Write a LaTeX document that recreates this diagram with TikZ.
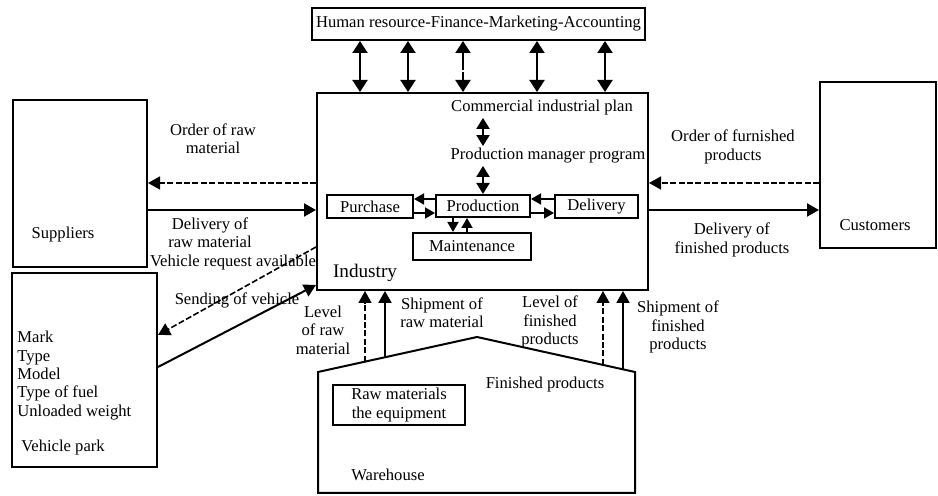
\documentclass[tikz,border=0pt]{standalone}
\usepackage{fontspec}
\setmainfont{Liberation Serif}
\usetikzlibrary{arrows.meta,positioning}

\tikzset{
  box/.style={draw, line width=1pt, inner sep=0pt, align=center},
  boxsize/.style 2 args={minimum width=#1*0.5pt, minimum height=#2*0.5pt},
  lbl/.style={inner sep=1pt, align=center},
  bigarrow/.style={line width=1pt, -{Triangle[length=6pt,width=6.5pt]}},
  dasharrow/.style={line width=0.8pt, dash pattern=on 3pt off 1.2pt, -{Triangle[length=6pt,width=6.5pt]}},
  twoway/.style={line width=1pt, {Triangle[length=5.5pt,width=6.5pt]}-{Triangle[length=5.5pt,width=6.5pt]}},
  hrlink/.style={line width=1pt, {Triangle[length=6pt,width=7.5pt]}-{Triangle[length=6pt,width=7.5pt]}},
  smallarrow/.style={line width=0.9pt, -{Triangle[length=5pt,width=5.5pt]}},
}

\begin{document}
\begin{tikzpicture}[x=0.5pt, y=-0.5pt, every node/.style={font=\fontsize{8.3}{9.2}\selectfont}]
  \useasboundingbox (0,0) rectangle (938,496);

  % support departments
  \node[box, boxsize={333}{32}] (hr) at (478.5,24) {Human resource-Finance-Marketing-Accounting};

  % industry
  \node[box, boxsize={331}{197}] (ind) at (482.5,191.5) {};
  \node[lbl, font=\fontsize{9.6}{11}\selectfont] (indlbl) at (365,273) {Industry};
  \node[lbl] (plan) at (542,108) {Commercial industrial plan};
  \node[lbl] (prog) at (548,156) {Production manager program};
  \node[box, boxsize={86}{23}] (pur) at (370,206.5) {Purchase};
  \node[box, boxsize={94}{22}] (prod) at (483,206) {Production};
  \node[box, boxsize={83}{23}] (del) at (596.5,206.5) {Delivery};
  \node[box, boxsize={118}{27}] (mnt) at (472,246.5) {Maintenance};

  \foreach \x [count=\i] in {360,408,537,605} {
    \coordinate (hrx\i) at (\x,0);
    \draw[hrlink] (hr.south -| hrx\i) -- (ind.north -| hrx\i);
  }
  \coordinate (hrmid) at (463,0);
  \draw[hrlink, dash pattern=on 9pt off 1pt] (hr.south -| hrmid) -- (ind.north -| hrmid);

  % plan -> program -> production
  \coordinate (xmid) at (483,0);
  \draw[twoway] (plan.south -| xmid) -- (prog.north -| xmid);
  \draw[twoway] (prog.south -| xmid) -- (prod.north -| xmid);

  % exchanges between units
  \coordinate (yup) at (0,199);
  \coordinate (ydn) at (0,213);
  \draw[smallarrow] (prod.west |- yup) -- (pur.east |- yup);
  \draw[smallarrow] (pur.east |- ydn) -- (prod.west |- ydn);
  \draw[smallarrow] (del.west |- yup) -- (prod.east |- yup);
  \draw[smallarrow] (prod.east |- ydn) -- (del.west |- ydn);
  \coordinate (xdn) at (453,0);
  \coordinate (xup) at (467,0);
  \draw[smallarrow] (prod.south -| xdn) -- (mnt.north -| xdn);
  \draw[smallarrow] (mnt.north -| xup) -- (prod.south -| xup);

  % suppliers and vehicle park
  \node[box, boxsize={134}{167}] (sup) at (80,183.5) {};
  \node[lbl] (suplbl) at (63,235) {Suppliers};
  \node[box, boxsize={145}{194}] (veh) at (84.5,370) {};
  \node[lbl, align=left, anchor=west] (vehattr) at (15,375.5) {Mark\\Type\\Model\\Type of fuel\\Unloaded weight};
  \node[lbl] (vehlbl) at (63,448) {Vehicle park};

  \coordinate (yord) at (0,183);
  \coordinate (ydlv) at (0,210);
  \draw[dasharrow] (ind.west |- yord) -- (sup.east |- yord);
  \draw[bigarrow] (sup.east |- ydlv) -- (ind.west |- ydlv);
  \node[lbl] (ordraw) at (213,139) {Order of raw\\material};
  \node[lbl] (dlvraw) at (210,233) {Delivery of\\raw material};

  \coordinate (yreq) at (0,247);
  \coordinate (yarr) at (0,335);
  \coordinate (ysend) at (0,367);
  \coordinate (yin) at (0,285);
  \draw[dasharrow] (ind.west |- yreq) -- (veh.east |- yarr);
  \draw[bigarrow] (veh.east |- ysend) -- (ind.west |- yin);
  \node[lbl] (reqlbl) at (233,263) {Vehicle request available};
  \node[lbl] (sendlbl) at (237,300) {Sending of vehicle};

  % customers
  \node[box, boxsize={116}{166}] (cus) at (878,165) {};
  \node[lbl] (cuslbl) at (875,225) {Customers};
  \draw[dasharrow] (cus.west |- yord) -- (ind.east |- yord);
  \draw[bigarrow] (ind.east |- ydlv) -- (cus.west |- ydlv);
  \node[lbl] (ordfin) at (733,147) {Order of furnished\\products};
  \node[lbl] (dlvfin) at (732,240) {Delivery of\\finished products};

  % warehouse
  \draw[line width=1pt] (318,493) coordinate (wsw) -- (318,372) coordinate (wnw)
    -- (477,337) coordinate (peak) -- (635,372) coordinate (wne)
    -- (635,493) coordinate (wse) -- cycle;
  \node[box, boxsize={132}{40}] (raw) at (399,405) {Raw materials\\the equipment};
  \node[lbl] (finlbl) at (545,385) {Finished products};
  \node[lbl] (whlbl) at (388,475) {Warehouse};

  \coordinate (rlvl) at (365,361.7);
  \coordinate (rship) at (385,357.3);
  \coordinate (flvl) at (603,364.9);
  \coordinate (fship) at (623,369.3);
  \draw[dasharrow] (rlvl) -- (ind.south -| rlvl);
  \draw[bigarrow] (rship) -- (ind.south -| rship);
  \draw[dasharrow] (flvl) -- (ind.south -| flvl);
  \draw[bigarrow] (fship) -- (ind.south -| fship);
  \node[lbl] (lvlraw) at (323,330) {Level\\of raw\\material};
  \node[lbl] (shipraw) at (442,313) {Shipment of\\raw material};
  \node[lbl] (lvlfin) at (550,322) {Level of\\finished\\products};
  \node[lbl] (shipfin) at (678,327) {Shipment of\\finished\\products};
\end{tikzpicture}
\end{document}
